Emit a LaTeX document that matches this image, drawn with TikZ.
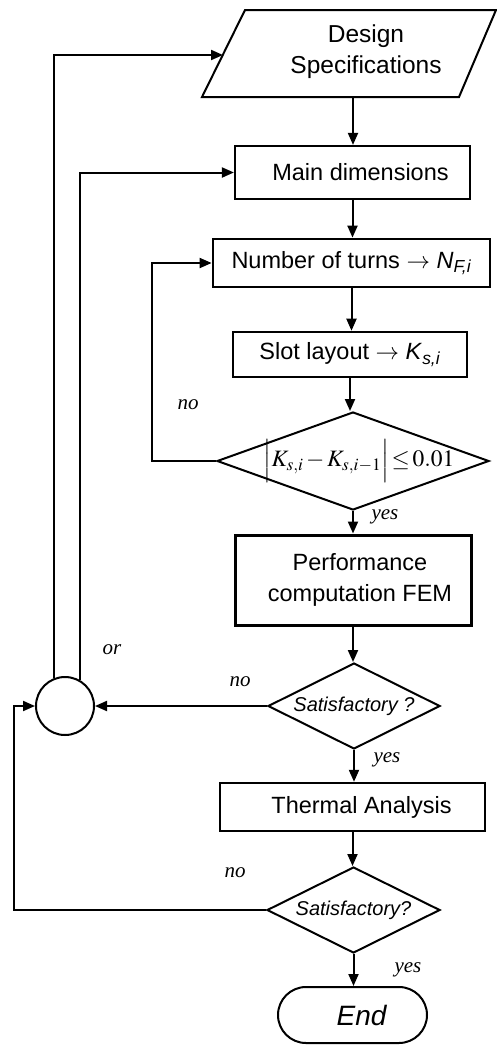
\documentclass[tikz,border=0pt]{standalone}
\usepackage{mathptmx}
\usepackage[no-math]{fontspec}
\setmainfont{Liberation Sans}
\newfontfamily\labfont{Liberation Serif}
\usetikzlibrary{arrows.meta,shapes.geometric}
\begin{document}
\begin{tikzpicture}[x=1pt,y=-1pt]
\tikzset{
  blk/.style={draw, rectangle, inner sep=0pt, align=center, line width=2.2pt,
              font=\fontsize{23.5}{31}\selectfont},
  dec/.style={draw, diamond, inner sep=0pt, line width=2pt,
              font=\fontsize{20}{24}\selectfont\itshape},
  lbl/.style={font=\labfont\fontsize{21}{24}\selectfont\itshape},
  arr/.style={-{Triangle[length=12pt,width=10pt]}, line width=2pt},
}
\useasboundingbox (0,0) rectangle (497,1045);
\fill[white] (0,0) rectangle (497,1045);

% Design specifications (parallelogram)
\coordinate (pA) at (202,97);
\coordinate (pB) at (245,10);
\coordinate (pC) at (496,10);
\coordinate (pD) at (459,97);
\draw[line width=2pt, line join=miter] (pA) -- (pB) -- (pC) -- (pD) -- cycle;
\node[align=center, font=\fontsize{24.5}{31}\selectfont] (spec) at (366,52) {Design\\Specifications};
\coordinate (specin) at (223,55);
\coordinate (specout) at (353,97);

\node[blk, minimum width=235, minimum height=53] (main) at (352.5,172.5) {\hspace*{16pt}Main dimensions};
\node[blk, line width=2.8pt, minimum width=277, minimum height=48] (turns) at (351.5,263) {Number of turns $\rightarrow$ \textit{N}\textsubscript{\textit{F,i}}};
\node[blk, line width=2.6pt, minimum width=234, minimum height=45] (slot) at (350,354.5) {Slot layout $\rightarrow$ \textit{K}\textsubscript{\textit{s,i}}};
\node[dec, minimum width=272, minimum height=98] (d1) at (353,461) {\makebox[0pt]{\hspace*{12pt}\fontsize{23.5}{28}\selectfont\upshape$\Bigl|K_{s,i}\,{-}\,K_{s,i-1}\Bigr|\!\le\!0.01$}};
\node[blk, line width=3pt, minimum width=236, minimum height=90] (perf) at (353,580) {\hspace*{14pt}Performance\\\hspace*{14pt}computation FEM};
\node[dec, minimum width=172, minimum height=86] (d2) at (354,706) {\makebox[0pt]{Satisfactory ?}};
\node[draw, circle, minimum size=58, inner sep=0pt, line width=2pt] (circ) at (65,706) {};
\node[blk, line width=2.4pt, minimum width=265, minimum height=48] (therm) at (352.5,807) {\hspace*{18pt}Thermal Analysis};
\node[dec, minimum width=173, minimum height=86] (d3) at (353.5,910) {\makebox[0pt]{Satisfactory?}};
\node[draw, rectangle, rounded corners=28pt, minimum width=149, minimum height=56, inner sep=0pt, line width=2pt,
      font=\fontsize{28}{32}\selectfont\itshape] (endn) at (352.5,1015) {\hspace*{18pt}End};

% labels
\node[lbl] (lno1) at (188,405) {no};
\node[lbl] (lyes1) at (385,517) {yes};
\node[lbl] (lor) at (112,650) {or};
\node[lbl] (lno2) at (240,682) {no};
\node[lbl] (lyes2) at (387,760) {yes};
\node[lbl] (lno3) at (235,873) {no};
\node[lbl] (lyes3) at (408,970) {yes};

% bend columns
\coordinate (k1) at (152,0);
\coordinate (k2) at (14,0);

% main chain
\draw[arr] (specout) -- (specout |- main.north);
\draw[arr] (main.south) -- (main.south |- turns.north);
\draw[arr] (turns.south) -- (turns.south |- slot.north);
\draw[arr] (slot.south) -- (slot.south |- d1.north);
\draw[arr] (d1.south) -- (d1.south |- perf.north);
\draw[arr] (perf.south) -- (perf.south |- d2.north);
\draw[arr] (d2.south) -- (d2.south |- therm.north);
\draw[arr] (therm.south) -- (therm.south |- d3.north);
\draw[arr] (d3.south) -- (d3.south |- endn.north);

% loops
\draw[arr] (d1.west) -- (d1.west -| k1) |- (turns.west);
\draw[arr] (d2.west) -- (circ.east);
\draw[arr] (d3.west) -- (d3.west -| k2) |- (circ.west);
\draw[arr] (circ.112) |- (specin);
\draw[arr] (circ.61) |- (main.west);
\end{tikzpicture}
\end{document}
